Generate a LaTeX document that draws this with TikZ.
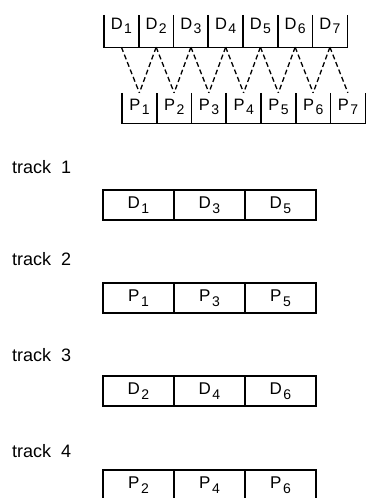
\documentclass[tikz,border=0pt]{standalone}
\usepackage{fontspec}
\setmainfont{Liberation Sans}
\newcommand{\cellname}[2]{#1\hspace{1.5pt}\raisebox{-4.5pt}{\fontsize{14}{14}\selectfont #2}}
\begin{document}
\begin{tikzpicture}[x=1pt,y=-1pt,
  cellline/.style={line width=1.4pt},
  rowcell/.style={minimum width=34.75pt, inner sep=0pt, font=\fontsize{16.5}{16.5}\selectfont},
  dcell/.style={rowcell, text height=14pt, text depth=18pt},
  pcell/.style={rowcell, text height=17pt, text depth=13pt},
  conn/.style={line width=1.3pt, dash pattern=on 5pt off 3pt},
  tracklabel/.style={anchor=base west, inner sep=0pt, font=\fontsize{18}{18}\selectfont},
  tcell/.style={draw, line width=1.4pt, minimum width=71pt, minimum height=30pt, inner sep=0pt, font=\fontsize{17}{17}\selectfont}
]
\useasboundingbox (0,0) rectangle (368,498);
% top rows
\foreach \i in {1,...,7} {
  \node[dcell] (D\i) at ({121.4+34.75*(\i-1)},31) {\cellname{D}{\i}};
  \node[pcell] (P\i) at ({139.4+34.75*(\i-1)},108) {\cellname{P}{\i}};
}
\foreach \i in {1,...,7} {
  \draw[cellline] (D\i.north west) |- (D\i.south east) -- (D\i.north east);
  \draw[cellline] (P\i.north west) |- (P\i.south east) -- (P\i.north east);
  \draw[conn] (D\i.south) -- (P\i.north);
}
\foreach \i [evaluate=\i as \j using int(\i+1)] in {1,...,6} {
  \draw[conn] (D\j.south) -- (P\i.north);
}
% tracks
\node[tracklabel] (t1) at (12,173) {track\ \ 1};
\node[tracklabel] (t2) at (12,265) {track\ \ 2};
\node[tracklabel] (t3) at (12,361) {track\ \ 3};
\node[tracklabel] (t4) at (12,457) {track\ \ 4};
% track 1
\node[tcell] (a1) at (138.5,205) {\cellname{D}{1}};
\node[tcell] (a2) at (209.5,205) {\cellname{D}{3}};
\node[tcell] (a3) at (280.5,205) {\cellname{D}{5}};
% track 2
\node[tcell] (b1) at (138.5,298) {\cellname{P}{1}};
\node[tcell] (b2) at (209.5,298) {\cellname{P}{3}};
\node[tcell] (b3) at (280.5,298) {\cellname{P}{5}};
% track 3
\node[tcell] (c1) at (138.5,391) {\cellname{D}{2}};
\node[tcell] (c2) at (209.5,391) {\cellname{D}{4}};
\node[tcell] (c3) at (280.5,391) {\cellname{D}{6}};
% track 4
\node[tcell] (e1) at (138.5,485) {\cellname{P}{2}};
\node[tcell] (e2) at (209.5,485) {\cellname{P}{4}};
\node[tcell] (e3) at (280.5,485) {\cellname{P}{6}};
\end{tikzpicture}
\end{document}
